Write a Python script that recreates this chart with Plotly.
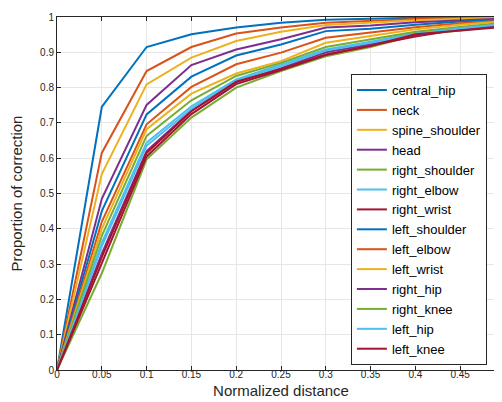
import plotly.graph_objects as go

x_vals = [0, 0.05, 0.1, 0.15, 0.2, 0.25, 0.3, 0.35, 0.4, 0.45, 0.5]

central_hip = [0, 0.745, 0.915, 0.951, 0.970, 0.984, 0.992, 0.996, 0.998, 0.999, 1.0]
neck = [0, 0.615, 0.847, 0.915, 0.953, 0.970, 0.984, 0.990, 0.994, 0.997, 0.999]
spine_shoulder = [0, 0.555, 0.809, 0.885, 0.932, 0.958, 0.977, 0.985, 0.991, 0.995, 0.998]
head = [0, 0.485, 0.751, 0.864, 0.908, 0.937, 0.970, 0.976, 0.985, 0.991, 0.996]
right_shoulder = [0, 0.274, 0.597, 0.715, 0.800, 0.847, 0.889, 0.915, 0.948, 0.963, 0.976]
right_elbow = [0, 0.36, 0.644, 0.747, 0.823, 0.865, 0.908, 0.930, 0.955, 0.970, 0.982]
right_wrist = [0, 0.30, 0.605, 0.725, 0.810, 0.850, 0.892, 0.920, 0.945, 0.965, 0.975]
left_shoulder = [0, 0.45, 0.724, 0.831, 0.891, 0.922, 0.960, 0.967, 0.978, 0.987, 0.993]
left_elbow = [0, 0.42, 0.696, 0.802, 0.866, 0.899, 0.941, 0.955, 0.971, 0.982, 0.990]
left_wrist = [0, 0.40, 0.682, 0.783, 0.840, 0.875, 0.927, 0.945, 0.965, 0.978, 0.988]
right_hip = [0, 0.33, 0.620, 0.735, 0.815, 0.855, 0.900, 0.923, 0.950, 0.966, 0.979]
right_knee = [0, 0.38, 0.663, 0.764, 0.833, 0.870, 0.915, 0.937, 0.958, 0.972, 0.984]
left_hip = [0, 0.35, 0.635, 0.740, 0.820, 0.860, 0.905, 0.927, 0.952, 0.968, 0.980]
left_knee = [0, 0.32, 0.615, 0.733, 0.817, 0.852, 0.894, 0.918, 0.951, 0.962, 0.972]

series_names = ["central_hip", "neck", "spine_shoulder", "head", "right_shoulder",
                "right_elbow", "right_wrist", "left_shoulder", "left_elbow", "left_wrist",
                "right_hip", "right_knee", "left_hip", "left_knee"]
series_values = [central_hip, neck, spine_shoulder, head, right_shoulder, right_elbow,
                 right_wrist, left_shoulder, left_elbow, left_wrist, right_hip, right_knee,
                 left_hip, left_knee]
palette = ["#0072BD", "#D95319", "#EDB120", "#7E2F8E", "#77AC30", "#4DBEEE", "#A2142F"]

x_tick_vals = [0, 0.05, 0.1, 0.15, 0.2, 0.25, 0.3, 0.35, 0.4, 0.45, 0.5]
x_tick_text = ["0", "0.05", "0.1", "0.15", "0.2", "0.25", "0.3", "0.35", "0.4", "0.45", "0.5"]
y_tick_vals = [0, 0.1, 0.2, 0.3, 0.4, 0.5, 0.6, 0.7, 0.8, 0.9, 1.0]
y_tick_text = ["0", "0.1", "0.2", "0.3", "0.4", "0.5", "0.6", "0.7", "0.8", "0.9", "1"]

fig = go.Figure()
for i, (name, vals) in enumerate(zip(series_names, series_values)):
    fig.add_trace(go.Scatter(x=x_vals, y=vals, mode="lines", name=name,
                             line=dict(color=palette[i % 7], width=2)))

font_family = "Liberation Sans, Arial, Helvetica, sans-serif"
axis_common = dict(
    showgrid=True, gridcolor="#e6e6e6", gridwidth=1,
    showline=True, linecolor="#262626", linewidth=1, mirror="ticks",
    ticks="inside", ticklen=4, tickcolor="#262626",
    tickfont=dict(family=font_family, size=10, color="#262626"),
    ticklabeloverflow="allow",
    zeroline=False,
)
fig.update_layout(
    width=502, height=402,
    margin=dict(l=49, r=5, t=9, b=40, autoexpand=False),
    paper_bgcolor="white", plot_bgcolor="white",
    font=dict(family=font_family, color="#262626"),
    showlegend=True,
    legend=dict(
        x=0.656, y=0.014, xanchor="left", yanchor="bottom",
        bgcolor="white", bordercolor="#262626", borderwidth=1,
        font=dict(family=font_family, size=13, color="#000000"),
        tracegroupgap=0, itemwidth=30,
    ),
)
fig.update_xaxes(range=[0, 0.5], tickvals=x_tick_vals, ticktext=x_tick_text,
                 ticklabelstandoff=-5,
                 title=dict(text="Normalized distance", font=dict(size=15, color="#262626"), standoff=6),
                 **axis_common)
fig.update_yaxes(range=[0, 1], tickvals=y_tick_vals, ticktext=y_tick_text,
                 title=dict(text="Proportion of correction", font=dict(size=15, color="#262626"), standoff=13),
                 **axis_common)

fig.write_html("out.html")
